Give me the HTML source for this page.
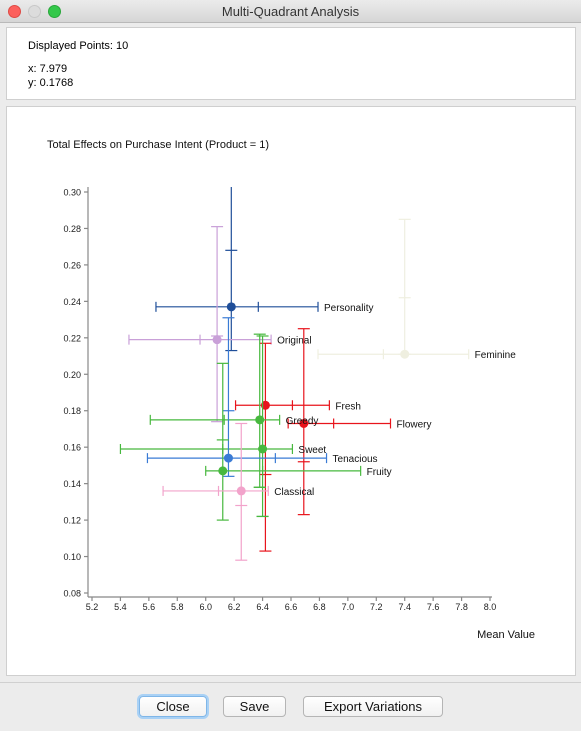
<!DOCTYPE html>
<html><head><meta charset="utf-8">
<style>
html,body{margin:0;padding:0;}
body{width:581px;height:731px;background:#ececec;font-family:"Liberation Sans",sans-serif;position:relative;overflow:hidden;}
.titlebar{position:absolute;left:0;top:0;width:581px;height:22px;background:linear-gradient(#ebebeb,#d6d6d6);border-bottom:1px solid #b9b9b9;}
.titlebar .t{position:absolute;left:0;width:581px;top:4px;text-align:center;font-size:13px;color:#333;}
.dot{position:absolute;top:5px;width:12px;height:12px;border-radius:50%;}
.panel{position:absolute;background:#fff;border:1px solid #cfcfcf;}
.btn{position:absolute;top:696px;height:19px;background:linear-gradient(#fff,#f1f1f1);border:1px solid #b5b5b5;border-radius:4px;font-size:13px;text-align:center;line-height:19px;color:#111;}
</style></head><body>
<div class="titlebar">
<div class="dot" style="left:8px;background:#fc605c;border:1px solid #de4a44;width:11px;height:11px"></div>
<div class="dot" style="left:28px;background:#dcdcdc;border:1px solid #c8c8c8;width:11px;height:11px"></div>
<div class="dot" style="left:48px;background:#34c84a;border:1px solid #28a73a;width:11px;height:11px"></div>
<div class="t">Multi-Quadrant Analysis</div>
</div>
<div class="panel" style="left:6px;top:27px;width:568px;height:71px">
<div style="position:absolute;left:21px;top:12px;font-size:11px">Displayed Points: 10</div>
<div style="position:absolute;left:21px;top:35px;font-size:11px">x: 7.979</div>
<div style="position:absolute;left:21px;top:49px;font-size:11px">y: 0.1768</div>
</div>
<div class="panel" style="left:6px;top:106px;width:568px;height:568px"></div>
<svg id="chart" width="581" height="731" style="position:absolute;left:0;top:0">
<defs><clipPath id="plotclip"><rect x="88" y="187" width="480" height="410"/></clipPath></defs>
</svg>
<div style="position:absolute;left:0;top:682px;width:581px;height:1px;background:#d0d0d0"></div>
<div class="btn" style="left:139px;width:66px;border-color:#7fb6e8;box-shadow:0 0 0 2px #a9d1f5">Close</div>
<div class="btn" style="left:223px;width:61px">Save</div>
<div class="btn" style="left:303px;width:138px">Export Variations</div>
<script>
const names=["Personality","Original","Feminine","Fresh","Flowery","Greedy","Sweet","Tenacious","Fruity","Classical"];
const colors=["#1f4e99","#c9a0d8","#efefe0","#e8141c","#e8141c","#47b83e","#47b83e","#3a7bd5","#47b83e","#f2a3cb"];
const xVals=[6.18,6.08,7.40,6.42,6.69,6.38,6.40,6.16,6.12,6.25];
const yVals=[0.237,0.219,0.211,0.183,0.173,0.175,0.159,0.154,0.147,0.136];
const xLo=[5.65,5.46,6.79,6.21,6.58,5.61,5.40,5.59,6.00,5.70];
const xHi=[6.79,6.46,7.85,6.87,7.30,6.52,6.61,6.85,7.09,6.44];
const xMid=[6.37,5.96,7.25,6.61,6.90,6.13,6.12,6.49,6.40,6.09];
const yLo=[0.213,0.174,0.211,0.103,0.123,0.138,0.122,0.144,0.120,0.098];
const yHi=[0.312,0.281,0.285,0.217,0.225,0.222,0.221,0.231,0.206,0.173];
const yMid=[0.268,0.221,0.242,0.145,0.152,0.138,0.122,0.180,0.164,0.128];
const xTicks=["5.2","5.4","5.6","5.8","6.0","6.2","6.4","6.6","6.8","7.0","7.2","7.4","7.6","7.8","8.0"];
const yTicks=["0.08","0.10","0.12","0.14","0.16","0.18","0.20","0.22","0.24","0.26","0.28","0.30"];
const NS="http://www.w3.org/2000/svg";
const svg=document.getElementById("chart");
const sx=v=>92+(v-5.2)/2.8*398;
const sy=v=>192+(0.30-v)/0.22*401;
function el(tag,a,p){const e=document.createElementNS(NS,tag);for(const k in a)e.setAttribute(k,a[k]);(p||svg).appendChild(e);return e;}
function ln(x1,y1,x2,y2,c,p){return el("line",{x1,y1,x2,y2,stroke:c,"stroke-width":1.2},p);}
const title=el("text",{x:47,y:148,"font-size":11,fill:"#111"});title.textContent="Total Effects on Purchase Intent (Product = 1)";


const yAxis=el("line",{x1:88,y1:187,x2:88,y2:597,stroke:"#888","stroke-width":1.2});


const xAxis=el("line",{x1:88,y1:597,x2:492,y2:597,stroke:"#888","stroke-width":1.2});


yTicks.forEach(t=>{const y=sy(parseFloat(t));ln(84,y,88,y,"#888");
const tx=el("text",{x:81,y:y+3.5,"font-size":9,"text-anchor":"end",fill:"#222"});tx.textContent=t;

});
xTicks.forEach(t=>{const x=sx(parseFloat(t));ln(x,597,x,601,"#888");
const tx=el("text",{x:x,y:610,"font-size":9,"text-anchor":"middle",fill:"#222"});tx.textContent=t;

});
const xt=el("text",{x:535,y:638,"font-size":11,"text-anchor":"end",fill:"#111"});xt.textContent="Mean Value";


const marks=el("g",{"clip-path":"url(#plotclip)"});


names.forEach((n,i)=>{
 const g=el("g",{},marks);
 
 
 const c=colors[i],cx=sx(xVals[i]),cy=sy(yVals[i]);
 ln(sx(xLo[i]),cy,sx(xHi[i]),cy,c,g);
 [xLo[i],xHi[i],xMid[i]].forEach(v=>ln(sx(v),cy-5,sx(v),cy+5,c,g));
 ln(cx,sy(yHi[i]),cx,sy(yLo[i]),c,g);
 [yLo[i],yHi[i],yMid[i]].forEach(v=>ln(cx-6,sy(v),cx+6,sy(v),c,g));
 const d=el("circle",{cx:cx,cy:cy,r:4.5,fill:c},g);
 
 
 const l=el("text",{x:sx(xHi[i])+6,y:cy+4,"font-size":10,fill:"#111"},g);l.textContent=n;
 
 
});
</script>
</body></html>
